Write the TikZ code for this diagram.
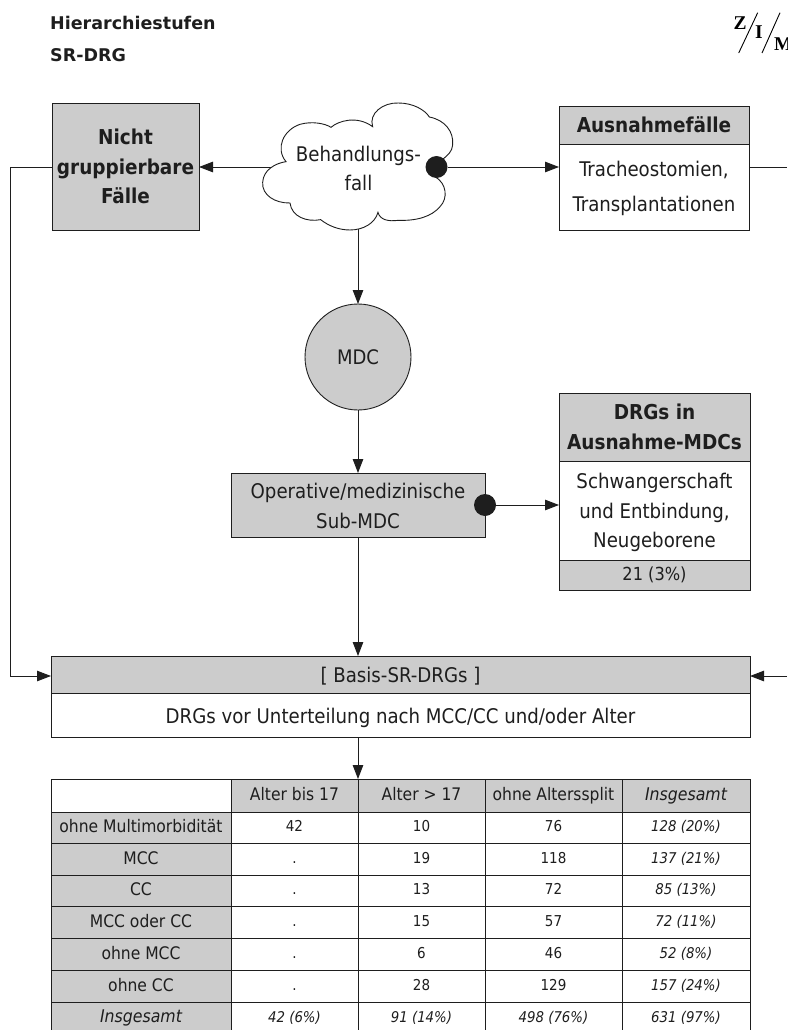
\documentclass[tikz,border=0pt]{standalone}
\usepackage{fontspec}
\setmainfont{DejaVu Sans Condensed}
\newfontfamily\verd{DejaVu Sans}
\newfontfamily\logof{Liberation Serif}
\usetikzlibrary{arrows.meta}
\definecolor{grayfill}{HTML}{CCCCCC}
\definecolor{ink}{HTML}{1E1E1E}
\newcommand{\fs}[2]{\fontsize{#1}{#2}\selectfont}
\tikzset{
  boxw/.style={draw=ink,line width=0.9pt,fill=white,inner sep=0pt,outer sep=0pt,align=center,text=ink},
  boxg/.style={boxw,fill=grayfill},
  large/.style={font=\fs{20.2}{29.5}},
  largeb/.style={font=\fs{20.5}{29.5}\bfseries},
  freetext/.style={inner sep=0pt,align=center,text=ink},
  cellt/.style={font=\fs{17.3}{20},text height=13pt,text depth=3.5pt},
  celln/.style={font=\fs{15}{18},text height=11pt,text depth=3pt},
  celli/.style={font=\fs{14.8}{18}\itshape,text height=11pt,text depth=3pt},
  conn/.style={draw=ink,line width=0.9pt,-{Triangle[length=14pt,width=10.5pt]}},
  plainl/.style={draw=ink,line width=0.9pt},
  dotn/.style={circle,fill=ink,draw=none,minimum size=22pt,inner sep=0pt,outer sep=0pt}
}
\newcommand{\bx}[7]{\node[#6,minimum width=#4pt-#2pt,minimum height=#5pt-#3pt] (#1) at ({(#2+#4)/2},{(#3+#5)/2}) {#7};}
\begin{document}
\begin{tikzpicture}[x=1pt,y=-1pt]
\useasboundingbox (0,0) rectangle (787,1030);
% titles
\node[anchor=west,inner sep=0pt,font=\fs{17.5}{20}\verd\bfseries,text=ink] (t1) at (50,23) {Hierarchiestufen};
\node[anchor=west,inner sep=0pt,font=\fs{17.5}{20}\verd\bfseries,text=ink] (t2) at (50,55) {SR-DRG};
% logo
\node[inner sep=0pt,font=\fs{19.5}{20}\logof\bfseries] (lz) at (740,23) {Z};
\node[inner sep=0pt,font=\fs{19.5}{20}\logof\bfseries] (li) at (759,32) {I};
\node[anchor=west,inner sep=0pt,font=\fs{19.5}{20}\logof\bfseries] (lm) at (774,44) {M};
\coordinate (s1a) at (757.7,12.7); \coordinate (s1b) at (738.7,53);
\coordinate (s2a) at (780,12.7); \coordinate (s2b) at (762,53);
\draw[line width=0.9pt] (s1a) -- (s1b) (s2a) -- (s2b);
% boxes
\bx{nicht}{52}{103}{199}{230}{boxg,largeb}{Nicht\\gruppierbare\\Fälle}
\bx{aushead}{559}{106}{749}{144}{boxg,largeb,text height=15pt,text depth=1pt}{Ausnahmefälle}
\bx{ausbody}{559}{144}{749}{230}{boxw}{}
\node[freetext,font=\fs{20.2}{35}] (austext) at (654,188.5) {Tracheostomien,\\Transplantationen};
\node[circle,draw=ink,line width=0.9pt,fill=grayfill,minimum size=106pt,inner sep=0pt,outer sep=0pt,font=\fs{20}{29},text=ink] (mdc) at (358,357) {MDC};
\bx{opr}{231}{473}{485}{537}{boxg}{}
\node[freetext,large] (oprtext) at (358,506) {Operative/medizinische\\Sub-MDC};
\bx{drghead}{559}{393}{750}{461}{boxg,largeb}{DRGs in\\Ausnahme-MDCs}
\bx{drgbody}{559}{461}{750}{560}{boxw}{}
\node[freetext,large] (drgtext) at (654.5,512.5) {Schwangerschaft\\und Entbindung,\\Neugeborene};
\bx{drgfoot}{559}{560}{750}{590}{boxg,font=\fs{18}{20},text height=14pt,text depth=3pt}{21 (3\%)}
\bx{basis}{51}{656}{750}{693}{boxg,large,text height=16pt,text depth=1pt}{[ Basis-SR-DRGs ]}
\bx{basisb}{51}{693}{750}{737}{boxw,large,text height=18pt,text depth=1pt}{DRGs vor Unterteilung nach MCC/CC und/oder Alter}
% table
\bx{h0}{51}{779}{231}{812}{boxw}{}
\bx{h1}{231}{779}{358}{812}{boxg,cellt}{Alter bis 17}
\bx{h2}{358}{779}{485}{812}{boxg,cellt}{Alter > 17}
\bx{h3}{485}{779}{622}{812}{boxg,cellt}{ohne Alterssplit}
\bx{h4}{622}{779}{750}{812}{boxg,cellt,font=\fs{17.5}{20}\itshape}{Insgesamt}
\foreach \nm/\ya/\yb/\lab/\va/\vb/\vc/\vd in {
 r1/812/843/{ohne Multimorbidität}/42/10/76/{128 (20\%)},
 r2/843/875/{MCC}/./19/118/{137 (21\%)},
 r3/875/906/{CC}/./13/72/{85 (13\%)},
 r4/906/938/{MCC oder CC}/./15/57/{72 (11\%)},
 r5/938/970/{ohne MCC}/./6/46/{52 (8\%)},
 r6/970/1002/{ohne CC}/./28/129/{157 (24\%)}}{
  \bx{\nm a}{51}{\ya}{231}{\yb}{boxg,cellt,text depth=2.5pt}{\lab}
  \bx{\nm b}{231}{\ya}{358}{\yb}{boxw,celln}{\va}
  \bx{\nm c}{358}{\ya}{485}{\yb}{boxw,celln}{\vb}
  \bx{\nm d}{485}{\ya}{622}{\yb}{boxw,celln}{\vc}
  \bx{\nm e}{622}{\ya}{750}{\yb}{boxw,celli}{\vd}
}
\bx{r7a}{51}{1002}{231}{1034}{boxg,cellt,font=\fs{17.5}{20}\itshape}{Insgesamt}
\bx{r7b}{231}{1002}{358}{1034}{boxw,celli}{42 (6\%)}
\bx{r7c}{358}{1002}{485}{1034}{boxw,celli}{91 (14\%)}
\bx{r7d}{485}{1002}{622}{1034}{boxw,celli}{498 (76\%)}
\bx{r7e}{622}{1002}{750}{1034}{boxw,celli}{631 (97\%)}
% connectors
\coordinate (cloud) at (358,167);
\coordinate (lft) at (10,676);
\coordinate (rgt1) at (787,167);
\coordinate (rgt2) at (787,676);
\node[dotn] (dot2) at (485,505) {};
\draw[conn] (cloud) -- (cloud -| nicht.east);
\draw[conn] (cloud) -- (mdc.north);
\draw[conn] (mdc.south) -- (opr.north);
\draw[conn] (opr.south) -- (opr.south |- basis.north);
\draw[conn] (basisb.south -| h1.north east) -- (h1.north east);
\draw[conn] (dot2) -- (dot2 -| drgbody.west);
\draw[plainl] (cloud -| nicht.west) -- (cloud -| lft) -- (lft);
\draw[conn] (lft) -- (lft -| basis.west);
\draw[plainl] (cloud -| ausbody.east) -- (rgt1);
\draw[conn] (rgt2) -- (rgt2 -| basis.east);
% cloud
\begin{scope}[shift={(250,95)},x=0.3333pt,y=-0.3333pt]
\draw[line width=0.9pt,draw=ink,fill=white]
 (108,200) .. controls (75,160) and (100,105) .. (150,88)
 .. controls (185,78) and (225,85) .. (243,97)
 .. controls (265,78) and (320,60) .. (368,95)
 .. controls (355,55) and (400,22) .. (445,24)
 .. controls (490,24) and (525,45) .. (538,66)
 .. controls (585,75) and (612,110) .. (608,150)
 .. controls (606,170) and (595,180) .. (575,195)
 -- (555,245)
 .. controls (590,265) and (595,310) .. (570,335)
 .. controls (545,365) and (500,378) .. (445,376)
 .. controls (415,380) and (390,375) .. (384,352)
 .. controls (375,385) and (340,405) .. (300,405)
 .. controls (265,405) and (235,392) .. (212,374)
 .. controls (170,382) and (125,365) .. (120,324)
 .. controls (75,325) and (35,300) .. (38,262)
 .. controls (40,225) and (75,205) .. (108,200)
 -- cycle;
\end{scope}
\node[freetext,font=\fs{20.2}{29}] (cloudtext) at (358.5,168.5) {Behandlungs-\\fall};
\node[dotn] (dot1) at (436.5,167) {};
\draw[conn] (dot1) -- (dot1 -| aushead.west);
\end{tikzpicture}
\end{document}
